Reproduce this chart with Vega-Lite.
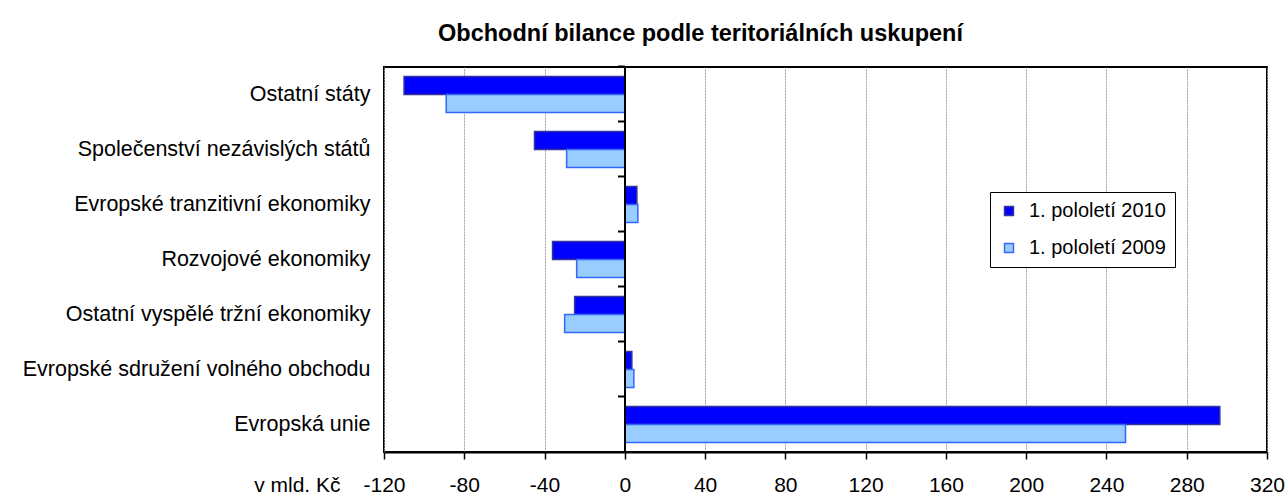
{
  "$schema": "https://vega.github.io/schema/vega-lite/v6.json",
  "width": 883,
  "height": 385,
  "autosize": "none",
  "padding": {"left": 384, "top": 67, "right": 21, "bottom": 47},
  "background": "white",
  "config": {
    "font": "Liberation Sans",
    "view": {"stroke": "black", "strokeWidth": 2},
    "axis": {"labelColor": "black", "titleColor": "black"}
  },
  "title": {
    "text": "Obchodní bilance podle teritoriálních uskupení",
    "font": "Liberation Sans",
    "fontSize": 23.5,
    "fontWeight": "bold",
    "color": "black",
    "anchor": "middle",
    "dx": -125,
    "offset": 20
  },
  "data": {
    "values": [
      {"region": "Ostatní státy", "period": "1. pololetí 2010", "value": -110},
      {"region": "Ostatní státy", "period": "1. pololetí 2009", "value": -89},
      {"region": "Společenství nezávislých států", "period": "1. pololetí 2010", "value": -45},
      {"region": "Společenství nezávislých států", "period": "1. pololetí 2009", "value": -29},
      {"region": "Evropské tranzitivní ekonomiky", "period": "1. pololetí 2010", "value": 6},
      {"region": "Evropské tranzitivní ekonomiky", "period": "1. pololetí 2009", "value": 6.5},
      {"region": "Rozvojové ekonomiky", "period": "1. pololetí 2010", "value": -36},
      {"region": "Rozvojové ekonomiky", "period": "1. pololetí 2009", "value": -24},
      {"region": "Ostatní vyspělé tržní ekonomiky", "period": "1. pololetí 2010", "value": -25},
      {"region": "Ostatní vyspělé tržní ekonomiky", "period": "1. pololetí 2009", "value": -30},
      {"region": "Evropské sdružení volného obchodu", "period": "1. pololetí 2010", "value": 3.5},
      {"region": "Evropské sdružení volného obchodu", "period": "1. pololetí 2009", "value": 4.5},
      {"region": "Evropská unie", "period": "1. pololetí 2010", "value": 296.5},
      {"region": "Evropská unie", "period": "1. pololetí 2009", "value": 249.5}
    ]
  },
  "layer": [
    {
      "mark": {"type": "bar", "strokeWidth": 1.5},
      "encoding": {
        "y": {
          "field": "region",
          "type": "nominal",
          "sort": ["Ostatní státy", "Společenství nezávislých států", "Evropské tranzitivní ekonomiky", "Rozvojové ekonomiky", "Ostatní vyspělé tržní ekonomiky", "Evropské sdružení volného obchodu", "Evropská unie"],
          "scale": {"paddingInner": 0.345, "paddingOuter": 0.1725},
          "axis": {"title": null, "ticks": false, "domain": false, "labelFontSize": 21.5, "labelPadding": 14, "labelLimit": 400}
        },
        "yOffset": {
          "field": "period",
          "type": "nominal",
          "sort": ["1. pololetí 2010", "1. pololetí 2009"],
          "scale": {"paddingInner": 0, "paddingOuter": 0}
        },
        "x": {
          "field": "value",
          "type": "quantitative",
          "scale": {"domain": [-120, 320], "nice": false, "zero": false},
          "axis": {
            "values": [-120, -80, -40, 0, 40, 80, 120, 160, 200, 240, 280, 320],
            "labelExpr": "'' + datum.value",
            "title": "v mld. Kč",
            "titleFontSize": 21,
            "titleFontWeight": "normal",
            "titleAnchor": "start",
            "titleAlign": "right",
            "titleBaseline": "top",
            "titleX": -44,
            "titleY": 22,
            "labelFontSize": 21,
            "labelPadding": 15,
            "labelFlush": false,
            "tickSize": 7,
            "tickColor": "black",
            "tickWidth": 1.5,
            "domainColor": "black",
            "domainWidth": 2,
            "grid": true,
            "gridColor": "#a0a0a0",
            "gridDash": [2, 1],
            "gridWidth": 1
          }
        },
        "color": {
          "field": "period",
          "type": "nominal",
          "sort": ["1. pololetí 2010", "1. pololetí 2009"],
          "scale": {"domain": ["1. pololetí 2010", "1. pololetí 2009"], "range": ["#0000FF", "#99CCFF"]},
          "legend": {
            "title": null,
            "orient": "none",
            "legendX": 606,
            "legendY": 125,
            "symbolType": "square",
            "symbolSize": 80,
            "symbolStrokeWidth": 1.5,
            "labelFontSize": 20,
            "labelColor": "black",
            "rowPadding": 17,
            "padding": 9,
            "strokeColor": "black",
            "fillColor": "white",
            "labelOffset": 10
          }
        },
        "stroke": {
          "field": "period",
          "type": "nominal",
          "scale": {"domain": ["1. pololetí 2010", "1. pololetí 2009"], "range": ["#333399", "#3366FF"]},
          "legend": null
        }
      }
    },
    {
      "mark": {"type": "tick", "opacity": 0},
      "encoding": {
        "y": {
          "field": "region",
          "type": "nominal",
          "sort": ["Ostatní státy", "Společenství nezávislých států", "Evropské tranzitivní ekonomiky", "Rozvojové ekonomiky", "Ostatní vyspělé tržní ekonomiky", "Evropské sdružení volného obchodu", "Evropská unie"],
          "axis": {"orient": "left", "offset": -240.5, "title": null, "labels": false, "ticks": true, "bandPosition": -0.264, "tickSize": 7, "tickWidth": 2, "tickColor": "black", "domainColor": "black", "domainWidth": 2, "zindex": 2}
        },
        "x": {"field": "value", "type": "quantitative"}
      }
    }
  ],
  "resolve": {"axis": {"y": "independent"}}
}
